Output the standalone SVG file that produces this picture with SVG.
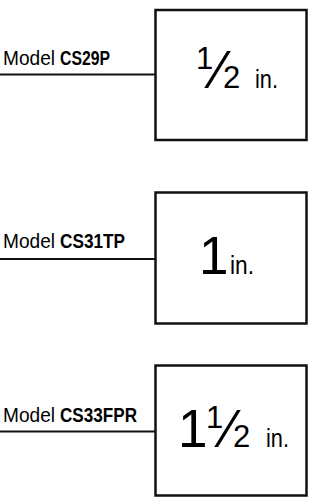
<svg xmlns="http://www.w3.org/2000/svg" width="320" height="498" viewBox="0 0 320 498">
<style>
.box{fill:#fff;stroke:#111;stroke-width:2.5}
.ln{stroke:#111;stroke-width:1.8}
text{font-family:"Liberation Sans",Arial,sans-serif;fill:#000}
.lbl{font-size:20.5px}
.b{font-weight:bold}
.big{font-size:53px}
.num{font-size:31px}
.sl{font-size:53px}
.in{font-size:26px}
</style>
<defs>
<g id="half">
<text class="num" x="196" y="68.5">1</text>
<text class="sl" x="215" y="87.5">⁄</text>
<text class="num" x="223" y="87.5">2</text>
</g>
</defs>
<rect width="320" height="498" fill="#fff"/>
<g id="connectors">
<line class="ln" x1="0" y1="74.5" x2="155" y2="74.5"/>
<line class="ln" x1="0" y1="259" x2="155" y2="259"/>
<line class="ln" x1="0" y1="431.5" x2="155" y2="431.5"/>
</g>
<g id="node-cs29p">
<rect class="box" x="155.5" y="10" width="151" height="130"/>
<text class="lbl" x="3" y="65" textLength="52" lengthAdjust="spacingAndGlyphs">Model</text>
<text class="lbl b" x="60" y="65" textLength="50" lengthAdjust="spacingAndGlyphs">CS29P</text>
<use href="#half"/>
<text class="in" x="255" y="87.5" textLength="23" lengthAdjust="spacingAndGlyphs">in.</text>
</g>
<g id="node-cs31tp">
<rect class="box" x="155.5" y="192.5" width="151" height="131"/>
<text class="lbl" x="3" y="248.3" textLength="52" lengthAdjust="spacingAndGlyphs">Model</text>
<text class="lbl b" x="60" y="248.3" textLength="65" lengthAdjust="spacingAndGlyphs">CS31TP</text>
<text class="big" x="199" y="273.5">1</text>
<text class="in" x="230" y="273.5" textLength="24" lengthAdjust="spacingAndGlyphs">in.</text>
</g>
<g id="node-cs33fpr">
<rect class="box" x="155.5" y="365.5" width="151" height="130"/>
<text class="lbl" x="3" y="421.5" textLength="52" lengthAdjust="spacingAndGlyphs">Model</text>
<text class="lbl b" x="60" y="421.5" textLength="77" lengthAdjust="spacingAndGlyphs">CS33FPR</text>
<text class="big" x="178" y="447">1</text>
<use href="#half" transform="translate(10,359.5)"/>
<text class="in" x="266" y="447" textLength="23" lengthAdjust="spacingAndGlyphs">in.</text>
</g>
</svg>
